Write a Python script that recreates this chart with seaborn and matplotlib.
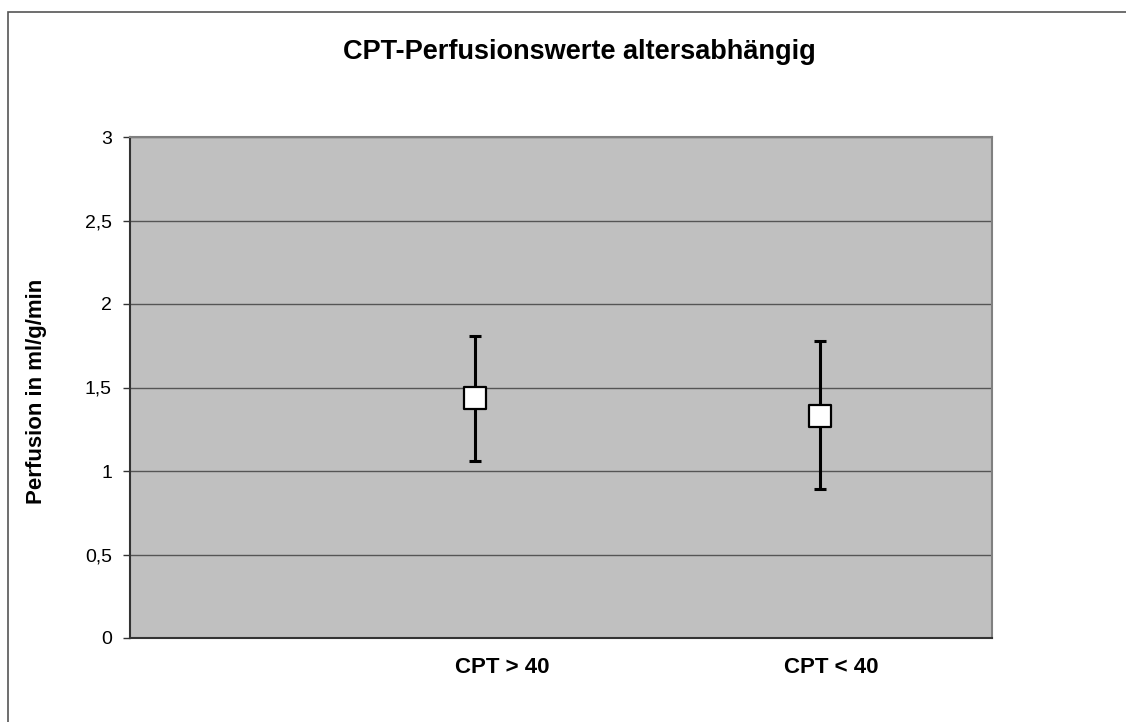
import matplotlib
matplotlib.use("Agg")
import matplotlib.pyplot as plt
import matplotlib.transforms as mtransforms
from matplotlib.patches import Rectangle
import seaborn as sns
import pandas as pd

categories = ["CPT > 40", "CPT < 40"]
positions = [1, 2]
means = [1.44, 1.33]
lower = [1.06, 0.89]
upper = [1.81, 1.78]
yticks = [0, 0.5, 1, 1.5, 2, 2.5, 3]
ytick_labels = ["0", "0,5", "1", "1,5", "2", "2,5", "3"]

sns.set_style("white")
plt.rcParams["font.family"] = ["Liberation Sans", "DejaVu Sans"]
plt.rcParams["text.color"] = "black"
plt.rcParams["axes.labelcolor"] = "black"
plt.rcParams["xtick.color"] = "black"
plt.rcParams["ytick.color"] = "black"

df = pd.DataFrame({"x": positions, "y": means, "cat": categories})

fig = plt.figure(figsize=(11.26, 7.22), dpi=100)
ax = fig.add_axes([130 / 1126, 84 / 722, 862 / 1126, 501 / 722])
ax.set_facecolor("#C0C0C0")

yerr = [[m - l for m, l in zip(means, lower)], [u - m for m, u in zip(means, upper)]]
ax.errorbar(positions, means, yerr=yerr, fmt="none", ecolor="black",
            elinewidth=2.2, capsize=4.5, capthick=2.2, zorder=3)
sns.scatterplot(data=df, x="x", y="y", ax=ax, marker="s", s=250,
                color="white", edgecolor="black", linewidth=1.6, zorder=4,
                legend=False)

ax.set_xlim(0, 2.5)
ax.set_ylim(0, 3)
ax.set_yticks(yticks)
ax.set_yticklabels(ytick_labels, fontsize=14)
ax.yaxis.grid(True, color="#555555", linewidth=1.0)
ax.set_axisbelow(True)
ax.set_xticks(positions)
ax.set_xticklabels(categories, fontsize=16, fontweight="bold")
ax.tick_params(axis="x", length=0, pad=14)
ax.tick_params(axis="y", length=5, width=1, color="#333333", pad=8, left=True)
offsets = [27, 12]
for lab, off in zip(ax.get_xticklabels(), offsets):
    lab.set_transform(lab.get_transform() + mtransforms.ScaledTranslation(off / 100, 0, fig.dpi_scale_trans))

ax.set_xlabel("")
ax.set_ylabel("Perfusion in ml/g/min", fontsize=16, fontweight="bold", va="center")
ax.yaxis.set_label_coords((37 - 130) / 862, (638 - 391) / 501)

for side in ["top", "right"]:
    ax.spines[side].set_color("#808080")
    ax.spines[side].set_linewidth(1.5)
for side in ["left", "bottom"]:
    ax.spines[side].set_color("#333333")
    ax.spines[side].set_linewidth(1.5)

fig.text(579.5 / 1126, 1 - 52 / 722, "CPT-Perfusionswerte altersabhängig", ha="center", va="center",
         fontsize=19.5, fontweight="bold")

fig.patches.append(Rectangle((8 / 1126, -0.05), 1.1, 1 - 12 / 722 + 0.05, transform=fig.transFigure,
                             fill=False, edgecolor="#555555", linewidth=1.2))

fig.savefig("out.png", dpi=100)
